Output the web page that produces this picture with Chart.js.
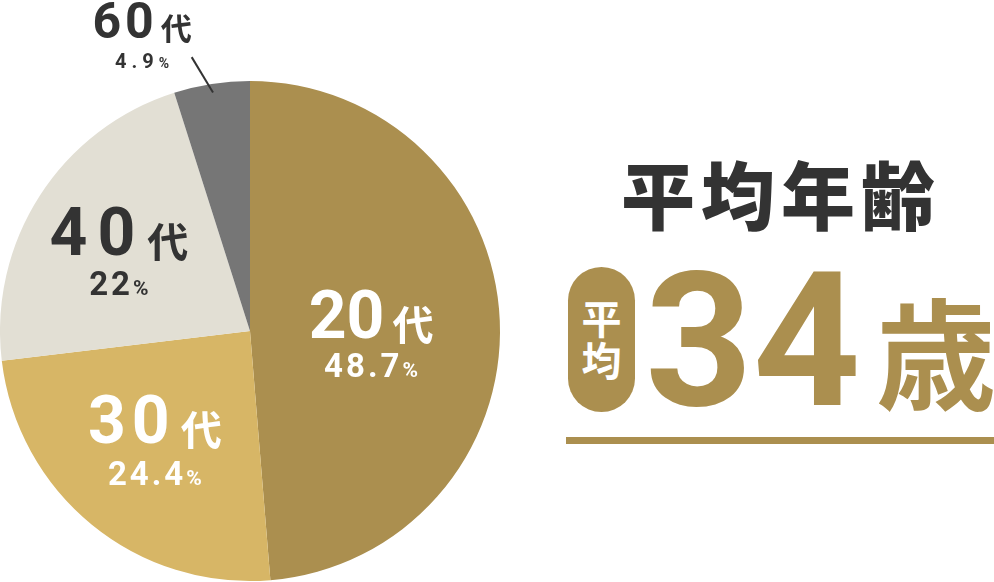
<!DOCTYPE html>
<html>
<head>
<meta charset="utf-8">
<script src="https://cdn.jsdelivr.net/npm/chart.js@4.4.1/dist/chart.umd.min.js"></script>
<style>
  html,body{margin:0;padding:0;background:#fff;}
  body{width:994px;height:582px;position:relative;overflow:hidden;}
  #wrap{position:absolute;left:0;top:0;width:510px;height:582px;}
  .cjk{font-family:"Noto Sans CJK JP","Noto Sans CJK SC",sans-serif;font-weight:700;}
  #title{position:absolute;left:621px;top:155px;font-size:74px;line-height:1;letter-spacing:6px;color:#333;white-space:nowrap;font-weight:900;}
  #pill{position:absolute;left:568px;top:267px;width:67px;height:145px;border-radius:34px;background:#AB8F4F;}
  #pill span{position:absolute;left:0;width:67px;text-align:center;color:#fff;font-size:40px;line-height:1;}
  #num{position:absolute;left:645px;top:247px;font-family:Roboto,sans-serif;font-weight:700;font-size:188px;line-height:1;color:#AB8F4F;white-space:nowrap;}
  #sai{position:absolute;left:876px;top:289px;font-size:120px;line-height:1;color:#AB8F4F;}
  #rule{position:absolute;left:566px;top:437px;width:428px;height:7px;background:#AB8F4F;}
</style>
</head>
<body>
<div id="wrap"><canvas id="c" width="510" height="582"></canvas></div>
<div id="title" class="cjk">平均年齢</div>
<div id="pill" class="cjk"><span style="top:30px">平</span><span style="top:72px">均</span></div>
<div id="num">34</div>
<div id="sai" class="cjk">歳</div>
<div id="rule"></div>
<script>
// ---- data ----
const categories = ["20", "30", "40", "60"];
const suffix = "代";
const shares = [48.7, 24.4, 22, 4.9];
const shareLabels = ["48.7", "24.4", "22", "4.9"];
const sliceColors = ["#AB8F4F", "#D7B666", "#E2DFD4", "#767676"];
const labelColors = ["#FFFFFF", "#FFFFFF", "#333333", "#333333"];

// ---- label styling (placement relative to slice) ----
const labelRadius = [0.485, 0.588, 0.606, 1.249];
const labelAngleOffsetDeg = [5.6, 1.1, -2.7, -11.4];
const mainDigitSize = [66, 66, 66, 50];
const mainCjkSize = [41, 41, 41, 31];
const mainSpacing = [0, 6, 10, 4];
const cjkGap = [8, 11, 12, 7];
const pctDigitSize = [33, 33, 33, 20];
const pctSignSize = [21, 21, 21, 14];
const pctSpacing = [3, 3, 3, 5];
const pctDrop = [39, 42, 40, 30];

function drawSpaced(ctx, text, x, y, spacing) {
  let cx = x;
  for (const ch of text) {
    ctx.fillText(ch, cx, y);
    cx += ctx.measureText(ch).width + spacing;
  }
  return cx;
}
function spacedWidth(ctx, text, spacing) {
  let w = 0; const arr = [...text];
  arr.forEach((ch, i) => { w += ctx.measureText(ch).width + (i < arr.length - 1 ? spacing : 0); });
  return w;
}

const labelPlugin = {
  id: 'sliceLabels',
  afterDatasetsDraw(chart) {
    const ctx = chart.ctx;
    const meta = chart.getDatasetMeta(0);
    meta.data.forEach((arc, i) => {
      const p = arc.getProps(['x', 'y', 'startAngle', 'endAngle', 'outerRadius'], true);
      const mid = (p.startAngle + p.endAngle) / 2;
      const R = p.outerRadius;
      const a = mid + labelAngleOffsetDeg[i] * Math.PI / 180;
      const ax = p.x + Math.cos(a) * R * labelRadius[i];
      const ay = p.y + Math.sin(a) * R * labelRadius[i];
      ctx.save();
      ctx.fillStyle = labelColors[i];
      ctx.textBaseline = 'alphabetic';
      ctx.textAlign = 'left';
      // main line
      const dFont = `700 ${mainDigitSize[i]}px Roboto, sans-serif`;
      const cFont = `700 ${mainCjkSize[i]}px "Noto Sans CJK JP", sans-serif`;
      ctx.font = dFont;
      const dW = spacedWidth(ctx, categories[i], mainSpacing[i]);
      ctx.font = cFont;
      const cW = ctx.measureText(suffix).width;
      const total = dW + cjkGap[i] + cW;
      let x0 = ax - total / 2;
      ctx.font = dFont;
      drawSpaced(ctx, categories[i], x0, ay, mainSpacing[i]);
      ctx.font = cFont;
      ctx.fillText(suffix, x0 + dW + cjkGap[i], ay + 2);
      // percentage line
      const pFont = `700 ${pctDigitSize[i]}px Roboto, sans-serif`;
      const sFont = `700 ${pctSignSize[i]}px Roboto, sans-serif`;
      ctx.font = pFont;
      const pW = spacedWidth(ctx, shareLabels[i], pctSpacing[i]);
      ctx.font = sFont;
      const sW = ctx.measureText('%').width;
      const pt = pW + pctSpacing[i] + sW;
      const px0 = ax - pt / 2;
      const py = ay + pctDrop[i];
      ctx.font = pFont;
      drawSpaced(ctx, shareLabels[i], px0, py, pctSpacing[i]);
      ctx.font = sFont;
      ctx.fillText('%', px0 + pW + pctSpacing[i], py);
      ctx.restore();
      // leader line for outside label
      if (labelRadius[i] > 1) {
        const a2 = mid - 3.2 * Math.PI / 180;
        ctx.save();
        ctx.strokeStyle = '#333';
        ctx.lineWidth = 2;
        ctx.beginPath();
        ctx.moveTo(p.x + Math.cos(mid) * R * 0.965, p.y + Math.sin(mid) * R * 0.965);
        ctx.lineTo(p.x + Math.cos(a2) * R * 1.12, p.y + Math.sin(a2) * R * 1.12);
        ctx.stroke();
        ctx.restore();
      }
    });
  }
};

new Chart(document.getElementById('c'), {
  type: 'pie',
  data: {
    labels: categories.map(c => c + suffix),
    datasets: [{ data: shares, backgroundColor: sliceColors, borderWidth: 0 }]
  },
  options: {
    responsive: false,
    animation: false,
    devicePixelRatio: 1,
    layout: { padding: { top: 81, bottom: 1, left: 0, right: 10 } },
    plugins: { legend: { display: false }, tooltip: { enabled: false } }
  },
  plugins: [labelPlugin]
});
</script>
</body>
</html>
